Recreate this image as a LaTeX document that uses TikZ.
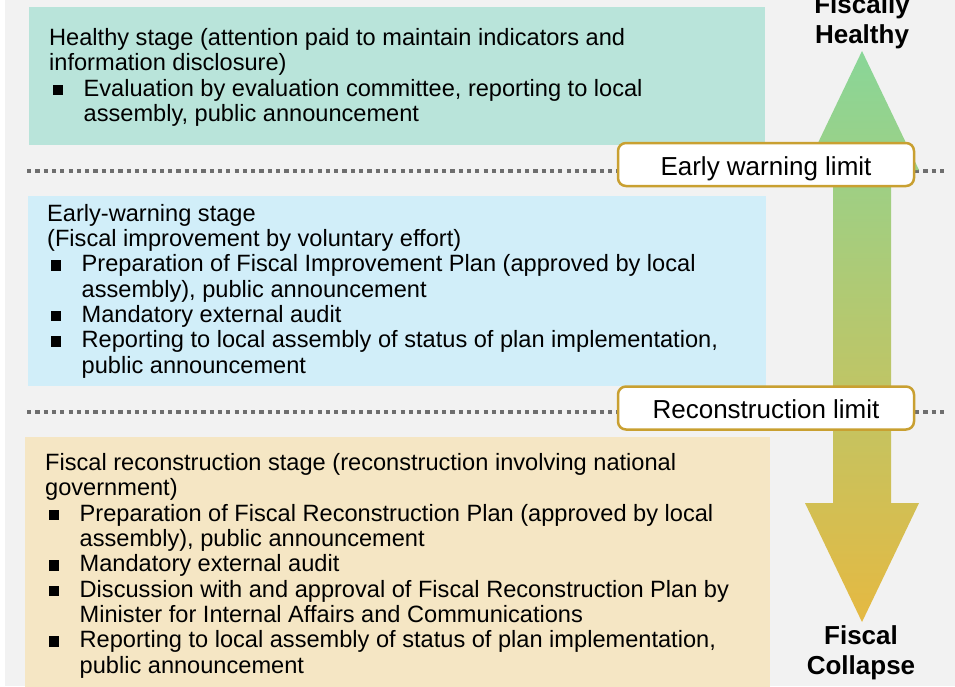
\documentclass[tikz,border=0pt]{standalone}
\usepackage{fontspec}
\setmainfont{Liberation Sans}
\usetikzlibrary{positioning}
\definecolor{sheetgrey}{RGB}{242,242,242}
\definecolor{healthygreen}{RGB}{185,228,218}
\definecolor{warnblue}{RGB}{209,238,249}
\definecolor{reconsand}{RGB}{245,230,196}
\definecolor{limitgold}{RGB}{201,160,49}
\definecolor{dotgrey}{RGB}{110,110,110}
\definecolor{arrowgreen}{RGB}{137,214,152}
\definecolor{arrowgold}{RGB}{229,185,66}
\tikzset{stage box/.style={
  anchor=north west,
  inner sep=0pt
  }
}
\tikzset{stage text/.style={
  anchor=base west,
  align=left,
  inner sep=0pt,
  font=\fontsize{23.6}{25.3}\selectfont
  }
}
\tikzset{limit line/.style={
  dotgrey,
  line width=3.5pt,
  dash pattern=on 4.2pt off 4.1pt
  }
}
\tikzset{limit label/.style={
  draw=limitgold,
  fill=white,
  line width=2.5pt,
  rounded corners=8pt,
  minimum width=296pt,
  minimum height=43pt,
  text height=21pt,
  text depth=0pt,
  font=\fontsize{26}{30}\selectfont
  }
}
\tikzset{end label/.style={
  align=center,
  inner sep=0pt,
  font=\bfseries\fontsize{26}{30}\selectfont
  }
}
\newcommand{\sqbullet}{\makebox[34.5pt][l]{\hspace{3.5pt}\rule[1pt]{10.5pt}{10.5pt}}}
\newcommand{\sqindent}{\hspace*{34.5pt}}
\begin{document}
\begin{tikzpicture}[x=1pt,y=-1pt]
    \useasboundingbox (0,0) rectangle (955,686);
    \fill[sheetgrey] (5,0) rectangle (955,686);

    % the three stages
    \node[stage box,fill=healthygreen,minimum width=736pt,minimum height=138pt] (HB) at (29,7) {};
    \node[stage box,fill=warnblue,minimum width=738pt,minimum height=190pt] (WB) at (28,196) {};
    \node[stage box,fill=reconsand,minimum width=745pt,minimum height=250pt] (RB) at (25,437) {};

    % texts sit on the baseline of their last line
    \node[stage text] (HT) at (49,121.5) {Healthy stage (attention paid to maintain indicators and\\
        information disclosure)\\
        \sqbullet Evaluation by evaluation committee, reporting to local\\
        \sqindent assembly, public announcement};
    \node[stage text] (WT) at (47,373) {Early-warning stage\\
        (Fiscal improvement by voluntary effort)\\
        \sqbullet Preparation of Fiscal Improvement Plan (approved by local\\
        \sqindent assembly), public announcement\\
        \sqbullet Mandatory external audit\\
        \sqbullet Reporting to local assembly of status of plan implementation,\\
        \sqindent public announcement};
    \node[stage text] (RT) at (45,673) {Fiscal reconstruction stage (reconstruction involving national\\
        government)\\
        \sqbullet Preparation of Fiscal Reconstruction Plan (approved by local\\
        \sqindent assembly), public announcement\\
        \sqbullet Mandatory external audit\\
        \sqbullet Discussion with and approval of Fiscal Reconstruction Plan by\\
        \sqindent Minister for Internal Affairs and Communications\\
        \sqbullet Reporting to local assembly of status of plan implementation,\\
        \sqindent public announcement};

    % dotted limits
    \foreach \y in {171,412}
        \draw[limit line] (27,\y) -- (946,\y);

    % double arrow healthy <-> collapse
    \shade[top color=arrowgreen,bottom color=arrowgold]
        (862,51) -- (919,170) -- (891,170) -- (891,503) -- (919,503) -- (862,622)
        -- (805,503) -- (833,503) -- (833,170) -- (805,170) -- cycle;

    \node[limit label] (EW) at (766,164.5) {Early warning limit};
    \node[limit label] (RL) at (766,408) {Reconstruction limit};

    \node[end label,anchor=base] (FH) at (862,43) {Fiscally\\Healthy};
    \node[end label,anchor=base] (FC) at (861,674) {Fiscal\\Collapse};
\end{tikzpicture}
\end{document}
